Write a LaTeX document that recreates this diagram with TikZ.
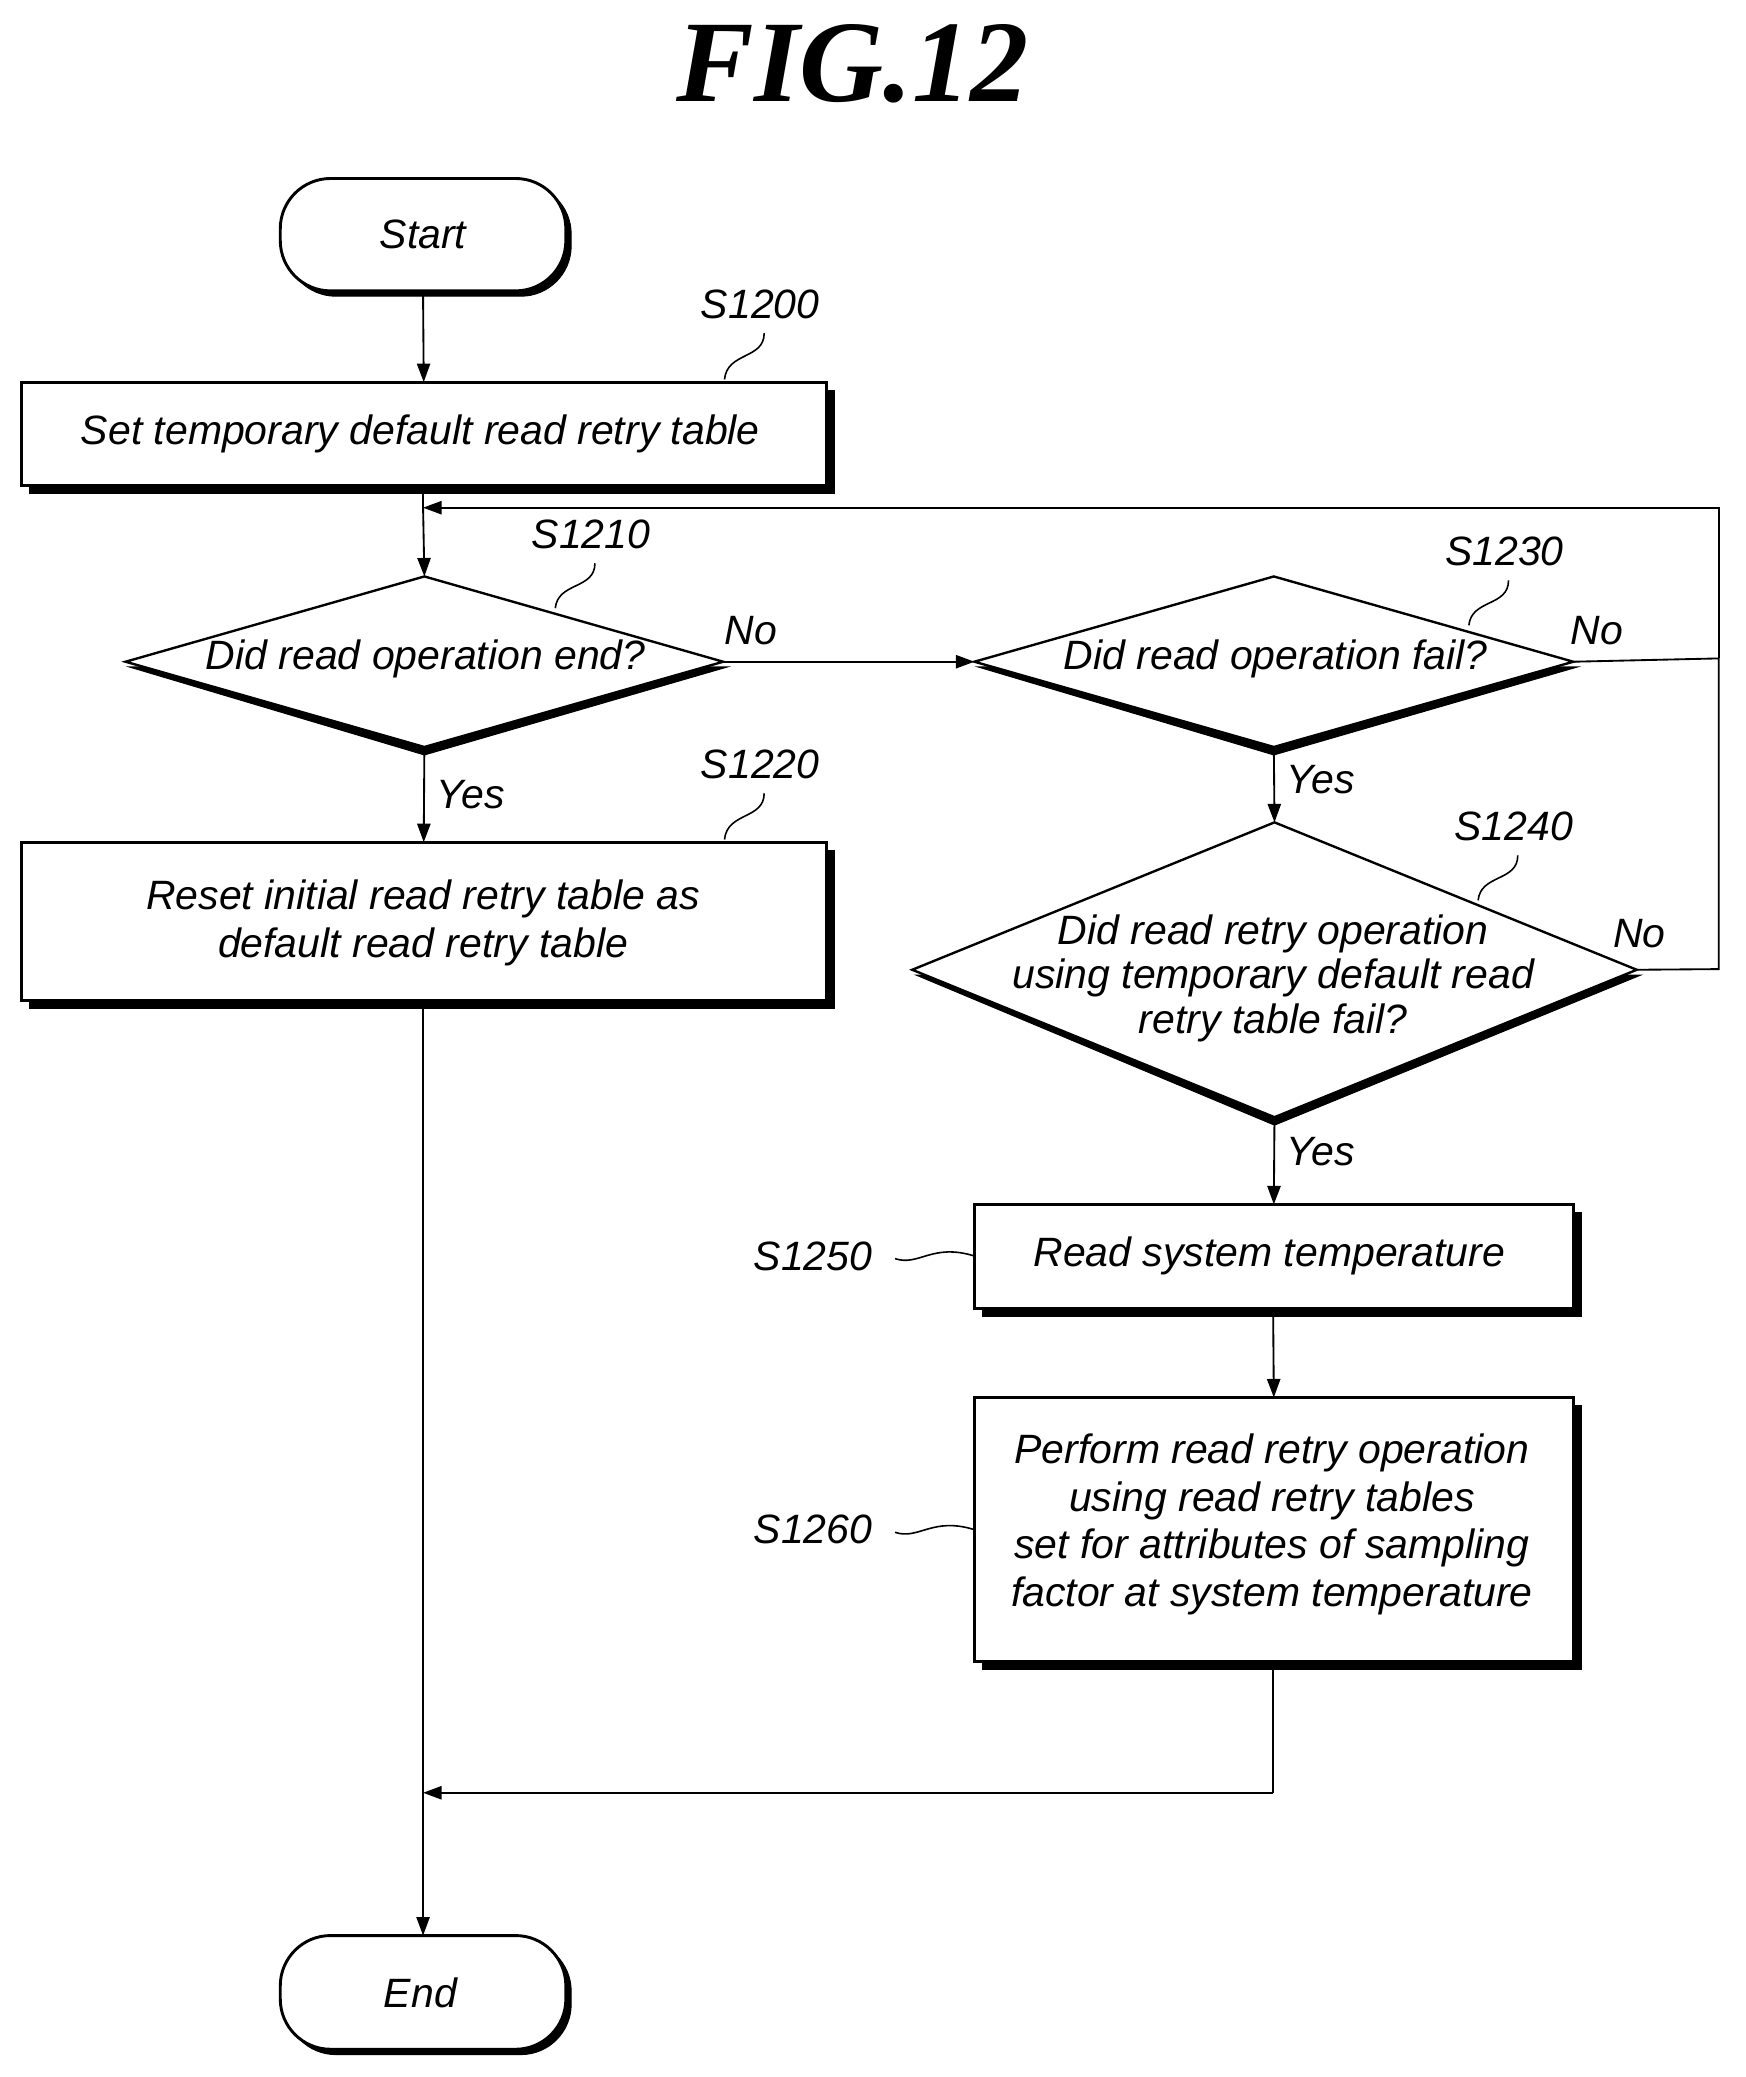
\documentclass[tikz,border=0pt]{standalone}
\usepackage{fontspec}
\setmainfont{Liberation Sans}
\newfontfamily\titlefont{Liberation Serif}
\usetikzlibrary{arrows.meta}
\begin{document}
\begin{tikzpicture}[x=0.5pt,y=-0.5pt,
  txt/.style={font=\itshape\fontsize{15.5}{18}\selectfont,align=center,inner sep=0},
  lbl/.style={font=\itshape\fontsize{15.5}{18}\selectfont,inner sep=0},
  ln/.style={line width=0.7pt},
  arr/.style={ln,-{Triangle[length=7pt,width=5pt]}},
  sq/.style={line width=0.6pt},
  shd/.style={fill=black,draw=black},
  bx/.style={fill=white,draw=black,line width=1.1pt}]
\useasboundingbox (0,0) rectangle (1320,1571);
\node[font=\titlefont\bfseries\itshape\fontsize{44}{48}\selectfont] (title) at (645,48) {FIG.12};
% helper macros
\newcommand\mybox[5]{% name, x1,y1,x2,y2
  \fill[shd] (#2+6,#3+6) rectangle (#4+6,#5+6);
  \draw[bx] (#2,#3) rectangle (#4,#5);
  \coordinate (#1-n) at ({(#2+#4)/2},#3);
  \coordinate (#1-s) at ({(#2+#4)/2},#5);
  \coordinate (#1-w) at (#2,{(#3+#5)/2});}
\newcommand\myterm[5]{%
  \fill[shd,rounded corners=19pt] (#2+4,#3+4) rectangle (#4+4,#5+4);
  \draw[bx,rounded corners=19pt] (#2,#3) rectangle (#4,#5);
  \coordinate (#1-n) at ({(#2+#4)/2},#3);
  \coordinate (#1-s) at ({(#2+#4)/2},#5);}
\newcommand\mydia[5]{% name, left,right,top,bottom
  \fill[shd] (#2+3,{(#4+#5)/2+4}) -- ({(#2+#3)/2},#5+6) -- (#3+3,{(#4+#5)/2+4}) -- cycle;
  \draw[bx,line width=0.9pt] (#2,{(#4+#5)/2}) -- ({(#2+#3)/2},#4) -- (#3,{(#4+#5)/2}) -- ({(#2+#3)/2},#5) -- cycle;
  \coordinate (#1-n) at ({(#2+#3)/2},#4);
  \coordinate (#1-s) at ({(#2+#3)/2},#5);
  \coordinate (#1-w) at (#2,{(#4+#5)/2});
  \coordinate (#1-e) at (#3,{(#4+#5)/2});}

\myterm{st}{212}{135}{428}{220}
\node[txt] (start) at (320,177) {Start};
\mybox{b0}{16}{289}{625}{367}
\node[txt] (t0) at (318,328) {Set temporary default read retry table};
\mydia{d1}{95}{547}{436}{565}
\node[txt] (t1) at (322,498) {Did read operation end?};
\mydia{d2}{737}{1190}{436}{565}
\node[txt] (t2) at (965,498) {Did read operation fail?};
\mybox{b2}{16}{637}{625}{757}
\node[txt] (t3) at (320,698) {Reset initial read retry table as\\default read retry table};
\mydia{d3}{690}{1238}{622}{845}
\node[txt,font=\itshape\fontsize{15.5}{16.8}\selectfont] (t4) at (963,740) {Did read retry operation\\using temporary default read\\retry table fail?};
\mybox{b5}{737}{911}{1190}{990}
\node[txt] (t5) at (960,950) {Read system temperature};
\mybox{b6}{737}{1057}{1190}{1257}
\node[txt] (t6) at (962,1153) {Perform read retry operation\\using read retry tables\\set for attributes of sampling\\factor at system temperature};
\myterm{en}{212}{1464}{428}{1550}
\node[txt] (end) at (318,1507) {End};

\coordinate (loopTR) at (1300,384);
\coordinate (loopIn) at (320,384);
\coordinate (joinR) at (963,1356);
\coordinate (joinL) at (320,1356);
\coordinate (b6s) at (963,1263);
\coordinate (b5b) at (963,996);
\coordinate (b2b) at (320,763);
\coordinate (b0b) at (320,373);
\coordinate (stb) at (320,224);

\draw[arr] (stb) -- (b0-n);
\draw[ln] (b0b) -- (loopIn);
\draw[arr] (loopIn) -- (d1-n);
\draw[arr] (1300,498) -- (loopTR) -- (loopIn);
\draw[arr] (d1-e) -- (d2-w);
\draw[ln] (d2-e) -- (1300,498) -- (1300,733) -- (d3-e);
\draw[arr] (d1-s) -- (b2-n);
\draw[arr] (d2-s) -- (d3-n);
\draw[arr] (d3-s) -- (b5-n);
\draw[arr] (b5b) -- (b6-n);
\draw[ln] (b6s) -- (joinR);
\draw[arr] (joinR) -- (joinL);
\draw[arr] (b2b) -- (en-n);

\node[lbl] (no1) at (568,477) {No};
\node[lbl] (no2) at (1208,477) {No};
\node[lbl] (no3) at (1240,706) {No};
\node[lbl] (y1) at (356,601) {Yes};
\node[lbl] (y2) at (999,590) {Yes};
\node[lbl] (y3) at (999,871) {Yes};

\node[lbl] (s1200) at (575,230) {S1200};
\draw[sq] (578,252) .. controls (578,272) and (550,266) .. (548,287);
\node[lbl] (s1210) at (447,404) {S1210};
\draw[sq] (450,426) .. controls (450,446) and (422,440) .. (420,460);
\node[lbl] (s1220) at (575,578) {S1220};
\draw[sq] (578,600) .. controls (578,620) and (550,614) .. (548,635);
\node[lbl] (s1230) at (1138,417) {S1230};
\draw[sq] (1141,439) .. controls (1141,459) and (1113,453) .. (1111,473);
\node[lbl] (s1240) at (1145,625) {S1240};
\draw[sq] (1148,647) .. controls (1148,667) and (1120,661) .. (1118,681);
\node[lbl] (s1250) at (615,950) {S1250};
\draw[sq] (677,952) .. controls (695,958) and (705,940) .. (737,950);
\node[lbl] (s1260) at (615,1157) {S1260};
\draw[sq] (677,1159) .. controls (695,1165) and (705,1147) .. (737,1157);
\end{tikzpicture}
\end{document}
